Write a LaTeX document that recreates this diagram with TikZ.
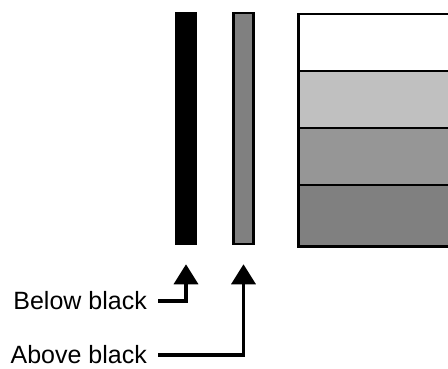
\documentclass[tikz,border=0pt]{standalone}
\usepackage{fontspec}
\setmainfont{Liberation Sans}
\usetikzlibrary{arrows.meta,positioning}
\definecolor{stripeA}{RGB}{192,192,192}
\definecolor{stripeB}{RGB}{150,150,150}
\definecolor{stripeC}{RGB}{128,128,128}
\begin{document}
\begin{tikzpicture}[x=1pt, y=-1pt,
    bar/.style={draw=black, line width=2.5pt, minimum width=20pt, minimum height=231pt, inner sep=0pt},
    stripe/.style={draw=black, line width=2.5pt, minimum width=170pt, minimum height=57pt, inner sep=0pt, anchor=north west},
    lbl/.style={font=\fontsize{25}{30}\selectfont, anchor=east, inner xsep=11pt, inner ysep=0pt},
    pointer/.style={-{Triangle[length=20pt, width=24pt]}, line width=3.5pt, shorten >=19pt}]

    % Frame
    \useasboundingbox (0,0) rectangle (448,369);
    \clip (0,0) rectangle (448,369);

    % Bars
    \node[bar, fill=black] (blackbar) at (186,128.5) {};
    \node[bar, fill=stripeC] (graybar) at (243.5,128.5) {};

    % Stripes
    \node[stripe, fill=white] (s1) at (297,13) {};
    \node[stripe, fill=stripeA] (s2) at (297,70) {};
    \node[stripe, fill=stripeB] (s3) at (297,127) {};
    \node[stripe, fill=stripeC, minimum height=61pt] (s4) at (297,184) {};

    % Labels
    \node[lbl] (below) at (158,301) {Below black};
    \node[lbl] (above) at (158,355) {Above black};

    % Pointers
    \draw[pointer] (below.east) -| (blackbar.south);
    \draw[pointer] (above.east) -| (graybar.south);

\end{tikzpicture}
\end{document}
